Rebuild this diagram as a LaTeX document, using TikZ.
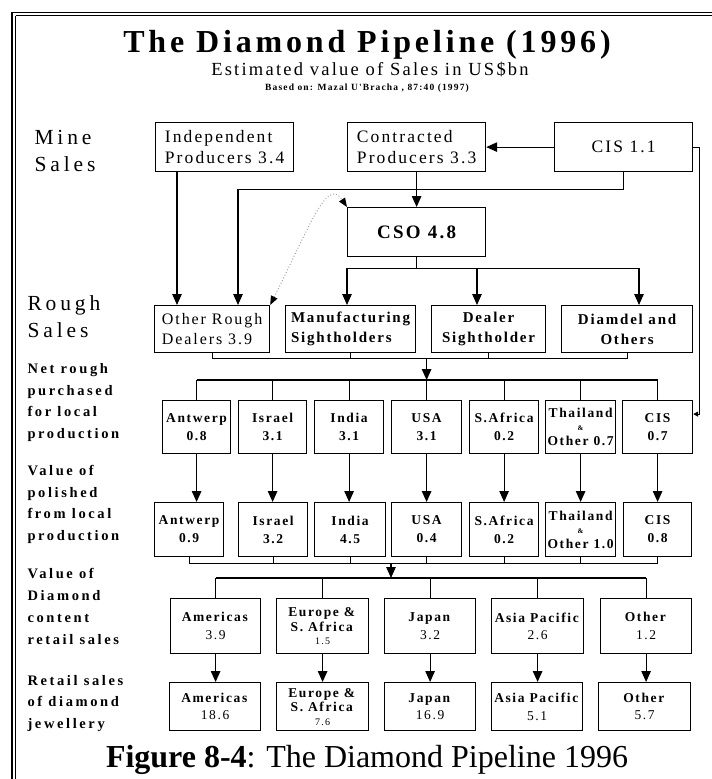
\documentclass[tikz,border=0pt]{standalone}
\usepackage{fontspec}
\setmainfont{Liberation Serif}
\newfontfamily\wideserif[LetterSpace=12]{Liberation Serif}
\newfontfamily\widerserif[LetterSpace=18]{Liberation Serif}
\usetikzlibrary{arrows.meta,calc}

\begin{document}
\begin{tikzpicture}[x=1pt,y=-1pt,
  box/.style={draw, line width=1.2pt, inner sep=1pt, anchor=north west},
  pbox/.style={box, font=\wideserif\fontsize{17.5}{21.5}\selectfont, align=left},
  rbox/.style={box, font=\wideserif\bfseries\fontsize{15}{20}\selectfont, align=center},
  cbox/.style={box, font=\wideserif\bfseries\fontsize{13.5}{18}\selectfont, align=center},
  sbox/.style={box, font=\wideserif\fontsize{13.5}{17.5}\selectfont, align=center},
  sidelabel/.style={anchor=west, align=left, font=\widerserif\bfseries\fontsize{14.5}{21.7}\selectfont},
  stagelabel/.style={anchor=west, align=left, font=\widerserif\fontsize{21.5}{27}\selectfont},
  wire/.style={line width=1.2pt},
  flowarrow/.style={wire, -{Triangle[length=11pt,width=9.5pt]}},
]
\useasboundingbox (0,0) rectangle (712,779);

% frame
\draw[line width=1.2pt] (11.5,12.5) -- (712,12.5);
\draw[line width=1pt] (15.5,15.8) -- (712,15.8);
\draw[line width=1.6pt] (12,12) -- (12,779);
\draw[line width=1.2pt] (15.8,15.5) -- (15.8,779);

% headings
\node[font=\wideserif\bfseries\fontsize{32}{36}\selectfont, anchor=base] (title) at (367,52) {The Diamond Pipeline (1996)};
\node[font=\wideserif\fontsize{18.5}{22}\selectfont, anchor=base] (subtitle) at (370,75) {Estimated value of Sales in US\$bn};
\node[font=\wideserif\bfseries\fontsize{9.5}{11}\selectfont, anchor=base] (source) at (367,90) {Based on: Mazal U'Bracha , 87:40 (1997)};
\node[font=\fontsize{32}{36}\selectfont, anchor=base] (caption) at (367,767) {\textbf{Figure 8-4}: The Diamond Pipeline 1996};

% stage labels
\node[stagelabel] (mine) at (31,151) {Mine\\Sales};
\node[stagelabel] (rough) at (24,316.5) {Rough\\Sales};
\node[sidelabel] (netrough) at (24,402.5) {Net rough\\purchased\\for local\\production};
\node[sidelabel] (polished) at (24,504.5) {Value of\\polished\\from local\\production};
\node[sidelabel] (content) at (24,606.5) {Value of\\Diamond\\content\\retail sales};
\node[sidelabel] (retail) at (24,703.5) {Retail sales\\of diamond\\jewellery};

% mine sales
\node[pbox, minimum width=138pt, minimum height=49pt] (ind) at (155,122) {Independent\\Producers 3.4};
\node[pbox, minimum width=138pt, minimum height=49pt] (con) at (347,122) {Contracted\\Producers 3.3};
\node[pbox, minimum width=138pt, minimum height=49pt] (cis1) at (554,122) {CIS 1.1};
\node[box, font=\wideserif\bfseries\fontsize{19}{22}\selectfont, minimum width=138pt, minimum height=49pt] (cso) at (347,207) {CSO 4.8};

% rough sales
\node[pbox, font=\wideserif\fontsize{16}{20}\selectfont, minimum width=115pt, minimum height=47pt] (orough) at (154,305) {Other Rough\\Dealers 3.9};
\node[rbox, align=left, minimum width=130pt, minimum height=47pt] (manuf) at (285,305) {Manufacturing\\Sightholders};
\node[rbox, minimum width=114pt, minimum height=47pt] (dealer) at (431,305) {Dealer\\Sightholder};
\node[rbox, minimum width=131pt, minimum height=47pt] (diamdel) at (561,305) {Diamdel and\\Others};

% net rough purchased
\node[cbox, minimum width=68pt, minimum height=53pt] (antw3) at (162,400) {Antwerp\\0.8};
\node[cbox, minimum width=68pt, minimum height=53pt] (isr3) at (238,400) {Israel\\3.1};
\node[cbox, minimum width=69pt, minimum height=53pt] (ind3) at (314,400) {India\\3.1};
\node[cbox, minimum width=70pt, minimum height=53pt] (usa3) at (391,400) {USA\\3.1};
\node[cbox, minimum width=69pt, minimum height=53pt] (saf3) at (469,400) {S.Africa\\0.2};
\node[cbox, minimum width=70pt, minimum height=53pt] (tha3) at (545,400) {Thailand\\[-5pt]{\fontsize{7}{7}\selectfont\&}\\[-3pt]Other 0.7};
\node[cbox, minimum width=70pt, minimum height=53pt] (cis3) at (622,400) {CIS\\0.7};

% polished
\node[cbox, minimum width=69pt, minimum height=54pt] (antw4) at (154,502) {Antwerp\\0.9};
\node[cbox, minimum width=69pt, minimum height=54pt] (isr4) at (238,502) {Israel\\3.2};
\node[cbox, minimum width=71pt, minimum height=54pt] (ind4) at (314,502) {India\\4.5};
\node[cbox, minimum width=70pt, minimum height=54pt] (usa4) at (391,502) {USA\\0.4};
\node[cbox, minimum width=69pt, minimum height=54pt] (saf4) at (469,502) {S.Africa\\0.2};
\node[cbox, minimum width=70pt, minimum height=54pt] (tha4) at (545,502) {Thailand\\[-5pt]{\fontsize{7}{7}\selectfont\&}\\[-3pt]Other 1.0};
\node[cbox, minimum width=68pt, minimum height=54pt] (cis4) at (623,502) {CIS\\0.8};

% diamond content
\node[sbox, minimum width=90pt, minimum height=55pt] (am5) at (170,598) {\textbf{Americas}\\3.9};
\node[sbox, minimum width=92pt, minimum height=55pt] (eu5) at (276,598) {\textbf{Europe \&}\\[-3pt]\textbf{S. Africa}\\[-4pt]{\fontsize{10}{10}\selectfont 1.5}};
\node[sbox, minimum width=91pt, minimum height=55pt] (jp5) at (384,598) {\textbf{Japan}\\3.2};
\node[sbox, minimum width=92pt, minimum height=55pt] (ap5) at (491,598) {\textbf{Asia Pacific}\\2.6};
\node[sbox, minimum width=91pt, minimum height=55pt] (ot5) at (600,598) {\textbf{Other}\\1.2};

% jewellery
\node[sbox, minimum width=91pt, minimum height=48pt] (am6) at (169,682) {\textbf{Americas}\\18.6};
\node[sbox, minimum width=92pt, minimum height=48pt] (eu6) at (276,682) {\textbf{Europe \&}\\[-3pt]\textbf{S. Africa}\\[-4pt]{\fontsize{10}{10}\selectfont 7.6}};
\node[sbox, minimum width=91pt, minimum height=48pt] (jp6) at (384,682) {\textbf{Japan}\\16.9};
\node[sbox, minimum width=91pt, minimum height=48pt] (ap6) at (491,682) {\textbf{Asia Pacific}\\5.1};
\node[sbox, minimum width=92pt, minimum height=48pt] (ot6) at (598,682) {\textbf{Other}\\5.7};

% mine sales flows
\draw[flowarrow] (cis1.west) -- (con.east);
\draw[flowarrow] (con.south) -- (cso.north);
\draw[flowarrow] ([xshift=22pt]ind.south west) -- ([xshift=22pt]ind.south west |- orough.north);
\coordinate (cisdrop) at ([yshift=-17pt]cis1.south);
\draw[flowarrow] (cis1.south) -- (cisdrop) -| ([xshift=84pt]orough.north west);
\draw[wire, -{Triangle[length=5pt,width=5pt]}] (cis1.east) -- ++(6,0) |- ([yshift=13pt]cis3.east);

% CSO distribution
\coordinate (split) at ([yshift=-11pt]cso.south);
\coordinate (mA) at ([xshift=62pt]manuf.north west);
\coordinate (dA) at ([xshift=46pt]dealer.north west);
\coordinate (gA) at ([xshift=78pt]diamdel.north west);
\draw[wire] (cso.south) -- (split);
\draw[wire] (split -| mA) -- (split -| gA);
\foreach \k in {mA,dA,gA} \draw[flowarrow] (split -| \k) -- (\k);
\draw[gray!70, dotted, line width=1pt, {Triangle[length=9pt,width=7pt,color=black]}-{Triangle[length=9pt,width=7pt,color=black]}]
  (orough.north east) .. controls +(40,-80) and +(-20,-30) .. (cso.north west);

% rough sales to local production
\coordinate (gather2) at ([yshift=-5pt]orough.south);
\draw[wire] (orough.south) -- (gather2) -- (gather2 -| diamdel.south) -- (diamdel.south);
\draw[wire] (manuf.south) -- (manuf.south |- gather2);
\draw[wire] (dealer.south) -- (dealer.south |- gather2);
\coordinate (spread3) at ([yshift=20pt]usa3.north);
\draw[flowarrow] (gather2 -| usa3.north) -- (spread3);
\draw[wire] (spread3 -| antw3.north) -- (spread3 -| cis3.north);
\foreach \nm in {antw3,isr3,ind3,usa3,saf3,tha3,cis3} \draw[wire] (spread3 -| \nm.north) -- (\nm.north);

% rough to polished
\foreach \a/\b in {antw3/antw4,isr3/isr4,ind3/ind4,usa3/usa4,saf3/saf4,tha3/tha4,cis3/cis4}
  \draw[flowarrow] (\a.south) -- (\a.south |- \b.north);

% polished to retail content
\coordinate (gather4) at ([yshift=-6pt]antw4.south);
\draw[wire] (gather4 -| antw4.south) -- (gather4 -| cis4.south);
\foreach \nm in {antw4,isr4,ind4,usa4,saf4,tha4,cis4} \draw[wire] (\nm.south) -- (\nm.south |- gather4);
\coordinate (spread5) at ([yshift=20pt]am5.north);
\draw[flowarrow] (gather4 -| usa4.south west) -- (spread5 -| usa4.south west);
\draw[wire] (spread5 -| am5.north) -- (spread5 -| ot5.north);
\foreach \nm in {am5,eu5,jp5,ap5,ot5} \draw[wire] (spread5 -| \nm.north) -- (\nm.north);

% content to jewellery
\foreach \a/\b in {am5/am6,eu5/eu6,jp5/jp6,ap5/ap6,ot5/ot6}
  \draw[flowarrow] (\a.south) -- (\a.south |- \b.north);
\end{tikzpicture}
\end{document}
